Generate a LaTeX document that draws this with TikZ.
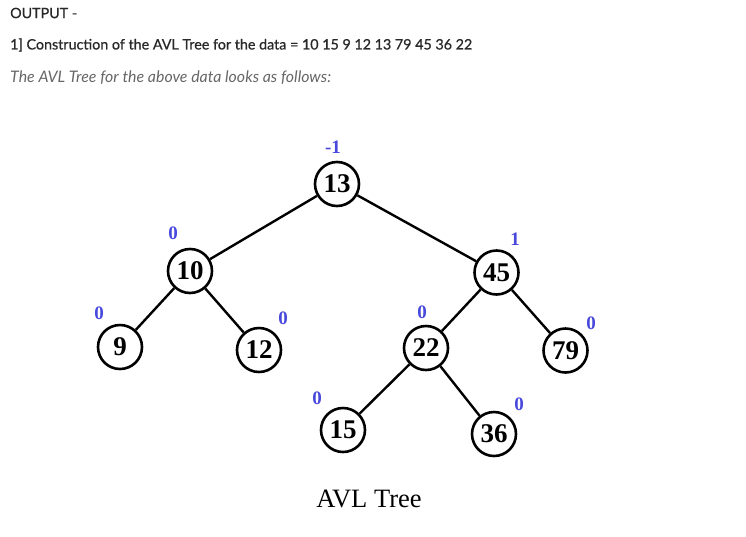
\documentclass[tikz,border=0pt]{standalone}
\usepackage{fontspec}
\setmainfont{Liberation Serif}
\newfontfamily\hdrfont[FakeBold=0.7]{Lato}
\newfontfamily\hdritfont{Lato}
\definecolor{balblue}{RGB}{72,72,220}
\definecolor{hdrgray}{RGB}{40,40,40}
\definecolor{itgray}{RGB}{102,102,102}
\begin{document}
\begin{tikzpicture}[x=1pt,y=-1pt,
  treenode/.style={circle,draw=black,line width=2.6pt,minimum size=44pt,inner sep=0pt,font=\fontsize{27}{27}\selectfont\bfseries},
  bal/.style={text=balblue,font=\fontsize{19}{19}\selectfont\bfseries,inner sep=0pt},
  edge/.style={line width=2.4pt},
  hdr/.style={anchor=west,inner sep=0pt,text=hdrgray,font=\hdrfont\fontsize{14.3}{15}\selectfont}]
\useasboundingbox (0,0) rectangle (746,536);
\node[hdr] (h1) at (10,13) {OUTPUT -};
\node[hdr] (h2) at (10,45) {1] Construction of the AVL Tree for the data = 10 15 9 12 13 79 45 36 22};
\node[hdr,text=itgray,font=\hdritfont\itshape\fontsize{15.9}{16}\selectfont] (h3) at (10,78) {The AVL Tree for the above data looks as follows:};

\node[treenode] (n13) at (337,184) {13};
\node[treenode] (n10) at (190,271) {10};
\node[treenode] (n45) at (496.5,272.5) {45};
\node[treenode] (n9) at (120,347) {9};
\node[treenode] (n12) at (259,350) {12};
\node[treenode] (n22) at (426,348) {22};
\node[treenode] (n79) at (565.5,350.5) {79};
\node[treenode] (n15) at (343,430) {15};
\node[treenode] (n36) at (494,434) {36};

\draw[edge] (n13) -- (n10);
\draw[edge] (n13) -- (n45);
\draw[edge] (n10) -- (n9);
\draw[edge] (n10) -- (n12);
\draw[edge] (n45) -- (n22);
\draw[edge] (n45) -- (n79);
\draw[edge] (n22) -- (n15);
\draw[edge] (n22) -- (n36);

\node[bal] (b13) at (333,147) {-1};
\node[bal] (b10) at (173,233) {0};
\node[bal] (b9) at (99,313) {0};
\node[bal] (b12) at (283,318) {0};
\node[bal] (b45) at (515,239) {1};
\node[bal] (b22) at (422,312) {0};
\node[bal] (b79) at (591,323) {0};
\node[bal] (b15) at (317,398) {0};
\node[bal] (b36) at (519,404) {0};

\node[font=\fontsize{26.5}{27}\selectfont,inner sep=0pt,anchor=base] (cap) at (369,507) {AVL Tree};
\end{tikzpicture}
\end{document}
